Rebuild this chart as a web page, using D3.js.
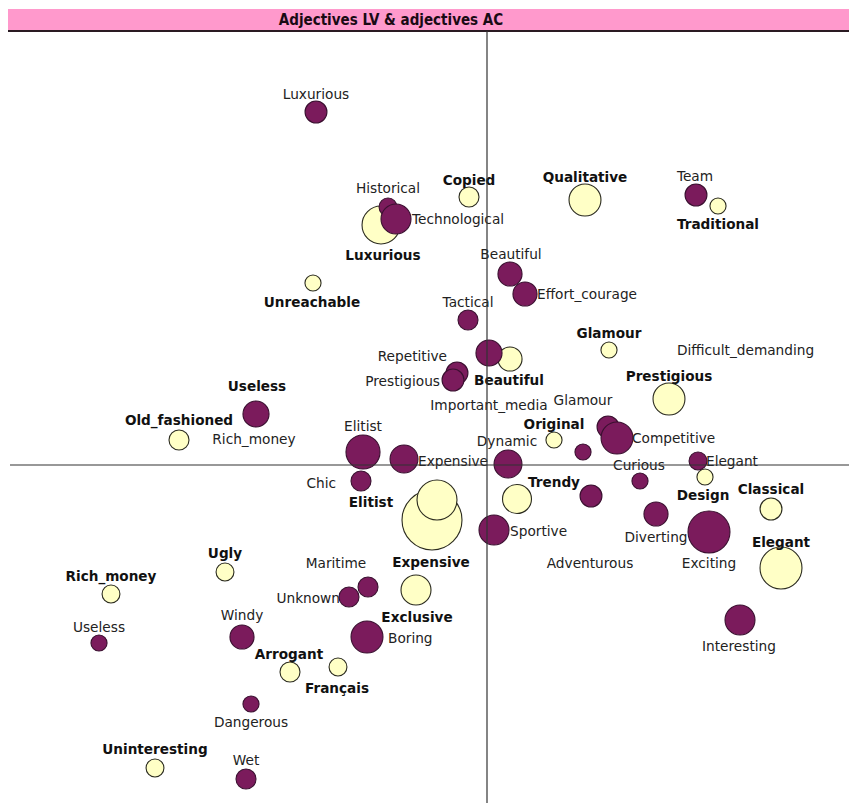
<!DOCTYPE html>
<meta charset="utf-8" />
<style>
  body { margin: 0; background: #fff; }
  .lbl { font-family: "DejaVu Sans", Verdana, sans-serif; font-size: 13.7px; fill: #222; }
  .lbl.bold { font-weight: bold; font-size: 13.6px; fill: #111; }
  .title { font-family: "DejaVu Sans Condensed", "DejaVu Sans", sans-serif; font-weight: bold; font-size: 15px; fill: #1a0a14; }
</style>
<body>
  <svg id="chart" width="849" height="803"></svg>
</body>
<script src="https://d3js.org/d3.v7.min.js"></script>
<script>
  // LV adjectives (purple): [name, dim1, dim2, weight]
  const lvPoints = [
    ["Luxurious", -1.71, 3.53, 1.2],
    ["Historical", -0.99, 2.58, 0.8],
    ["Technological", -0.91, 2.46, 2.25],
    ["Team", 2.09, 2.70, 1.2],
    ["Beautiful", 0.23, 1.91, 1.45],
    ["Effort_courage", 0.38, 1.71, 1.45],
    ["Tactical", -0.19, 1.45, 1.0],
    ["Important_media", 0.02, 1.12, 1.7],
    ["Repetitive", -0.30, 0.92, 1.2],
    ["Prestigious", -0.34, 0.85, 1.2],
    ["Rich_money", -2.31, 0.51, 1.7],
    ["Elitist", -1.24, 0.13, 2.9],
    ["Expensive", -0.83, 0.06, 1.95],
    ["Chic", -1.26, -0.16, 1.0],
    ["Dynamic", 0.21, 0.01, 1.95],
    ["Glamour", 0.96, 0.13, 0.65],
    ["Difficult_demanding", 1.21, 0.38, 1.2],
    ["Competitive", 1.30, 0.27, 2.55],
    ["Curious", 1.53, -0.16, 0.65],
    ["Elegant", 2.11, 0.04, 0.8],
    ["Adventurous", 1.04, -0.31, 1.2],
    ["Diverting", 1.69, -0.49, 1.45],
    ["Sportive", 0.07, -0.65, 2.25],
    ["Exciting", 2.22, -0.67, 4.4],
    ["Interesting", 2.53, -1.55, 2.25],
    ["Maritime", -1.19, -1.22, 1.0],
    ["Unknown", -1.38, -1.32, 1.0],
    ["Windy", -2.45, -1.72, 1.45],
    ["Boring", -1.20, -1.72, 2.55],
    ["Useless", -3.88, -1.78, 0.65],
    ["Dangerous", -2.36, -2.39, 0.65],
    ["Wet", -2.41, -3.14, 1.0]
  ];

  // where each LV label sits: [dim1, dim2, anchor]
  const lvLabels = [
    [-1.71, 3.71, "middle"], [-0.99, 2.77, "middle"], [-0.75, 2.46, "start"],
    [2.08, 2.89, "middle"], [0.24, 2.11, "middle"], [0.50, 1.71, "start"],
    [-0.19, 1.63, "middle"], [0.02, 0.60, "middle"], [-0.40, 1.09, "end"],
    [-0.47, 0.84, "end"], [-2.33, 0.26, "middle"], [-1.24, 0.39, "middle"],
    [-0.69, 0.04, "start"], [-1.51, -0.18, "end"], [0.20, 0.24, "middle"],
    [0.96, 0.65, "middle"], [1.90, 1.15, "start"], [1.45, 0.27, "start"],
    [1.52, 0.0, "middle"], [2.19, 0.04, "start"], [1.03, -0.98, "middle"],
    [1.69, -0.72, "middle"], [0.23, -0.66, "start"], [2.22, -0.98, "middle"],
    [2.52, -1.81, "middle"], [-1.51, -0.98, "middle"], [-1.47, -1.33, "end"],
    [-2.45, -1.50, "middle"], [-0.99, -1.73, "start"], [-3.88, -1.62, "middle"],
    [-2.36, -2.57, "middle"], [-2.41, -2.95, "middle"]
  ];

  // AC adjectives (yellow): [name, dim1, dim2, weight]
  const acPoints = [
    ["Copied", -0.18, 2.68, 1.0],
    ["Qualitative", 0.98, 2.65, 2.55],
    ["Traditional", 2.31, 2.59, 0.65],
    ["Luxurious", -1.06, 2.40, 3.6],
    ["Unreachable", -1.74, 1.82, 0.65],
    ["Glamour", 1.22, 1.15, 0.65],
    ["Beautiful", 0.23, 1.06, 1.45],
    ["Prestigious", 1.82, 0.66, 2.55],
    ["Useless", -2.31, 0.51, 0.65],
    ["Old_fashioned", -3.08, 0.25, 1.0],
    ["Original", 0.67, 0.25, 0.65],
    ["Expensive", -0.55, -0.55, 9.0],
    ["Elitist", -0.50, -0.35, 4.0],
    ["Trendy", 0.30, -0.34, 2.1],
    ["Design", 2.18, -0.12, 0.65],
    ["Classical", 2.84, -0.44, 1.2],
    ["Elegant", 2.94, -1.03, 4.4],
    ["Ugly", -2.62, -1.07, 0.8],
    ["Rich_money", -3.76, -1.29, 0.8],
    ["Exclusive", -0.71, -1.25, 2.25],
    ["Arrogant", -1.97, -2.07, 1.0],
    ["Français", -1.49, -2.02, 0.8],
    ["Uninteresting", -3.32, -3.03, 0.8]
  ];

  const acLabels = [
    [-0.18, 2.85, "middle"], [0.98, 2.88, "middle"], [2.31, 2.41, "middle"],
    [-1.04, 2.10, "middle"], [-1.75, 1.63, "middle"], [1.22, 1.32, "middle"],
    [0.22, 0.85, "middle"], [1.82, 0.89, "middle"], [-2.30, 0.79, "middle"],
    [-3.08, 0.45, "middle"], [0.67, 0.41, "middle"], [-0.56, -0.97, "middle"],
    [-1.16, -0.37, "middle"], [0.67, -0.17, "middle"], [2.16, -0.30, "middle"],
    [2.84, -0.24, "middle"], [2.94, -0.77, "middle"], [-2.62, -0.88, "middle"],
    [-3.76, -1.11, "middle"], [-0.70, -1.52, "middle"], [-1.98, -1.89, "middle"],
    [-1.50, -2.23, "middle"], [-3.32, -2.84, "middle"]
  ];

  const titleText = "Adjectives LV & adjectives AC";

  const svg = d3.select("#chart");
  const W = +svg.attr("width");
  const H = +svg.attr("height");

  // plot area
  const area = { left: 10, right: 849, top: 31, bottom: 803 };

  const x = d3.scaleLinear().domain([-4.77, 3.62]).range([area.left, area.right]);
  const y = d3.scaleLinear().domain([-3.38, 4.34]).range([area.bottom, area.top]);
  const r = d3.scaleSqrt().domain([0, 9]).range([0, 30]);

  const lvColor = "#7b1b5c";
  const acColor = "#ffffc6";

  // title bar
  svg.append("rect")
    .attr("x", 8).attr("y", 9)
    .attr("width", W - 8).attr("height", 21)
    .attr("fill", "#ff99cc");
  svg.append("line")
    .attr("x1", 8).attr("x2", W)
    .attr("y1", 31).attr("y2", 31)
    .attr("stroke", "#2a1a22").attr("stroke-width", 2);
  svg.append("text")
    .attr("class", "title")
    .attr("x", 391).attr("y", 20)
    .attr("text-anchor", "middle")
    .attr("dominant-baseline", "central")
    .text(titleText);

  const ac = acPoints.map((p, i) => ({ name: p[0], x: p[1], y: p[2], w: p[3], lab: acLabels[i] }));
  const lv = lvPoints.map((p, i) => ({ name: p[0], x: p[1], y: p[2], w: p[3], lab: lvLabels[i] }));

  const g = svg.append("g");

  // yellow bubbles first, purple drawn over them
  g.selectAll(".ac")
    .data(ac)
    .join("circle")
    .attr("class", "ac")
    .attr("cx", (d) => x(d.x))
    .attr("cy", (d) => y(d.y))
    .attr("r", (d) => r(d.w))
    .attr("fill", acColor)
    .attr("stroke", "#2b2b1f")
    .attr("stroke-width", 1.1);

  g.selectAll(".lv")
    .data(lv)
    .join("circle")
    .attr("class", "lv")
    .attr("cx", (d) => x(d.x))
    .attr("cy", (d) => y(d.y))
    .attr("r", (d) => r(d.w))
    .attr("fill", lvColor)
    .attr("stroke", "#3a1030")
    .attr("stroke-width", 1.1);

  // labels
  g.selectAll(".lvl")
    .data(lv)
    .join("text")
    .attr("class", "lbl")
    .attr("x", (d) => x(d.lab[0]))
    .attr("y", (d) => y(d.lab[1]))
    .attr("text-anchor", (d) => d.lab[2])
    .attr("dominant-baseline", "central")
    .text((d) => d.name);

  g.selectAll(".acl")
    .data(ac)
    .join("text")
    .attr("class", "lbl bold")
    .attr("x", (d) => x(d.lab[0]))
    .attr("y", (d) => y(d.lab[1]))
    .attr("text-anchor", (d) => d.lab[2])
    .attr("dominant-baseline", "central")
    .text((d) => d.name);

  // axes through the origin
  svg.append("line")
    .attr("x1", area.left).attr("x2", area.right)
    .attr("y1", y(0)).attr("y2", y(0))
    .attr("stroke", "#333").attr("stroke-width", 1.2);
  svg.append("line")
    .attr("x1", x(0)).attr("x2", x(0))
    .attr("y1", area.top).attr("y2", area.bottom)
    .attr("stroke", "#333").attr("stroke-width", 1.2);
</script>
